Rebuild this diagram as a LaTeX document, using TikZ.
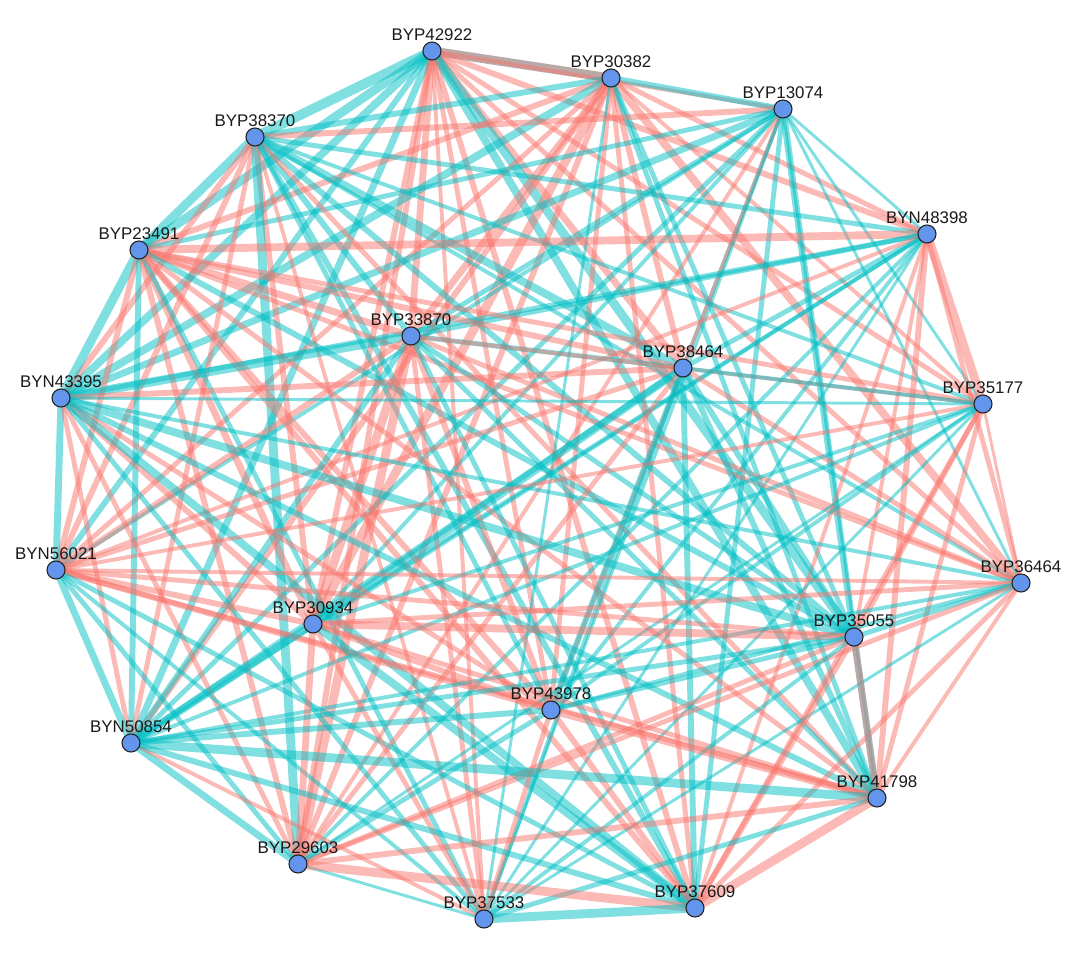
\documentclass[tikz,border=0pt]{standalone}
\usepackage{fontspec}
\setmainfont{Liberation Sans}
\usetikzlibrary{backgrounds}
\definecolor{edgered}{HTML}{F8766D}
\definecolor{edgecyan}{HTML}{00BFC4}
\definecolor{edgegray}{HTML}{A89492}
\definecolor{vfill}{HTML}{6495ED}
\definecolor{txt}{HTML}{1A1A1A}
\tikzset{
  er/.style={draw=edgered, draw opacity=0.5},
  ec/.style={draw=edgecyan, draw opacity=0.5},
  eg/.style={draw=edgegray, draw opacity=0.8},
  vert/.style={circle, draw=black!85, line width=0.8pt, fill=vfill, minimum size=0.45cm, inner sep=0pt},
  vlab/.style={font=\fontsize{12}{14}\selectfont, text=txt, inner sep=1pt}
}
\begin{document}
\begin{tikzpicture}[x=0.025cm,y=-0.025cm]
\useasboundingbox (0,0) rectangle (1080,972);
\foreach \i/\x/\y/\t in {
 1/432/51/BYP42922, 2/611/78/BYP30382, 3/783/109/BYP13074, 4/255/137/BYP38370,
 5/927/234/BYN48398, 6/139/250/BYP23491, 7/411/336/BYP33870, 8/683/368/BYP38464,
 9/61/398/BYN43395, 10/983/404/BYP35177, 11/56/570/BYN56021, 12/1021/583/BYP36464,
 13/313/624/BYP30934, 14/854/637/BYP35055, 15/551/710/BYP43978, 16/131/743/BYN50854,
 17/877/798/BYP41798, 18/298/864/BYP29603, 19/484/919/BYP37533, 20/695/908/BYP37609}
 { \node[vert, label={[vlab, label distance=-1pt]above:\t}] (v\i) at (\x,\y) {}; }
\begin{scope}[on background layer]
\foreach \a/\b/\s/\w in {
 1/2/eg/9, 1/3/er/4, 1/4/ec/10, 1/5/er/6, 1/6/ec/9, 1/7/er/7, 1/8/er/7, 1/9/ec/8, 1/10/er/5,
 1/11/ec/6, 1/12/er/5, 1/13/er/6, 1/14/ec/9, 1/15/er/5, 1/16/ec/7, 1/17/ec/8, 1/18/er/6, 1/19/er/4, 1/20/er/6,
 2/3/ec/6, 2/4/ec/6, 2/5/er/5, 2/6/er/6, 2/7/er/7, 2/8/er/6, 2/9/ec/8, 2/10/er/4, 2/11/er/5,
 2/12/er/8, 2/13/er/9, 2/14/ec/5, 2/15/er/5, 2/16/er/6, 2/17/ec/5, 2/18/er/6, 2/19/ec/3, 2/20/er/5,
 3/4/er/6, 3/5/ec/3, 3/6/ec/5, 3/7/ec/5, 3/8/ec/4, 3/9/ec/7, 3/10/ec/3, 3/11/ec/4, 3/12/ec/3,
 3/13/ec/4, 3/14/ec/7, 3/15/er/4, 3/16/ec/5, 3/17/ec/3, 3/18/er/4, 3/19/ec/3, 3/20/ec/5,
 4/5/ec/5, 4/6/ec/9, 4/7/ec/6, 4/8/ec/8, 4/9/er/6, 4/10/ec/4, 4/11/er/6, 4/12/ec/4, 4/13/er/6,
 4/14/ec/6, 4/15/ec/5, 4/16/er/5, 4/17/er/5, 4/18/ec/9, 4/19/er/4, 4/20/ec/6,
 5/6/er/8, 5/7/ec/5, 5/8/ec/5, 5/9/ec/5, 5/10/er/9, 5/11/er/4, 5/12/er/5, 5/13/ec/4, 5/14/er/4,
 5/15/ec/4, 5/16/ec/4, 5/17/er/6, 5/18/ec/4, 5/19/ec/3, 5/20/er/4,
 6/7/er/7, 6/8/er/6, 6/9/ec/9, 6/10/er/5, 6/11/er/6, 6/12/er/5, 6/13/er/7, 6/14/ec/6, 6/15/er/6,
 6/16/ec/6, 6/17/er/5, 6/18/er/6, 6/19/ec/5, 6/20/er/6,
 7/8/ec/5, 7/9/ec/9, 7/10/er/4, 7/11/er/6, 7/12/er/5, 7/13/er/9, 7/14/ec/5, 7/15/er/6, 7/16/ec/6,
 7/17/ec/5, 7/18/er/9, 7/19/er/5, 7/20/ec/5,
 8/9/er/6, 8/10/ec/4, 8/11/er/5, 8/12/er/5, 8/13/ec/8, 8/14/ec/6, 8/15/ec/6, 8/16/ec/6, 8/17/ec/6,
 8/18/er/5, 8/19/ec/4, 8/20/ec/6,
 9/10/ec/3, 9/11/ec/7, 9/12/ec/4, 9/13/er/6, 9/14/ec/8, 9/15/er/5, 9/16/er/5, 9/17/ec/6, 9/18/er/5,
 9/19/ec/5, 9/20/ec/8,
 10/11/er/4, 10/12/er/3, 10/13/ec/4, 10/14/er/5, 10/15/ec/4, 10/16/ec/4, 10/17/er/5, 10/18/ec/3,
 10/19/ec/3, 10/20/er/5,
 11/12/er/4, 11/13/er/6, 11/14/er/5, 11/15/er/6, 11/16/ec/7, 11/17/er/5, 11/18/ec/5, 11/19/ec/4, 11/20/ec/5,
 12/13/er/5, 12/14/ec/5, 12/15/ec/4, 12/16/ec/4, 12/17/er/4, 12/18/er/5, 12/19/ec/3, 12/20/er/5,
 13/14/er/8, 13/15/er/6, 13/16/ec/8, 13/17/er/5, 13/18/er/7, 13/19/er/5, 13/20/ec/8,
 14/15/ec/5, 14/16/ec/5, 14/17/eg/7, 14/18/er/5, 14/19/ec/4, 14/20/er/6,
 15/16/ec/6, 15/17/er/8, 15/18/ec/5, 15/19/er/5, 15/20/er/6,
 16/17/ec/9, 16/18/ec/7, 16/19/er/4, 16/20/ec/6,
 17/18/er/6, 17/19/ec/5, 17/20/er/9,
 18/19/ec/3, 18/20/er/9, 19/20/ec/9}
 { \draw[\s, line width=\w*0.7pt] (v\a.center) -- (v\b.center); }
\end{scope}
\end{tikzpicture}
\end{document}
